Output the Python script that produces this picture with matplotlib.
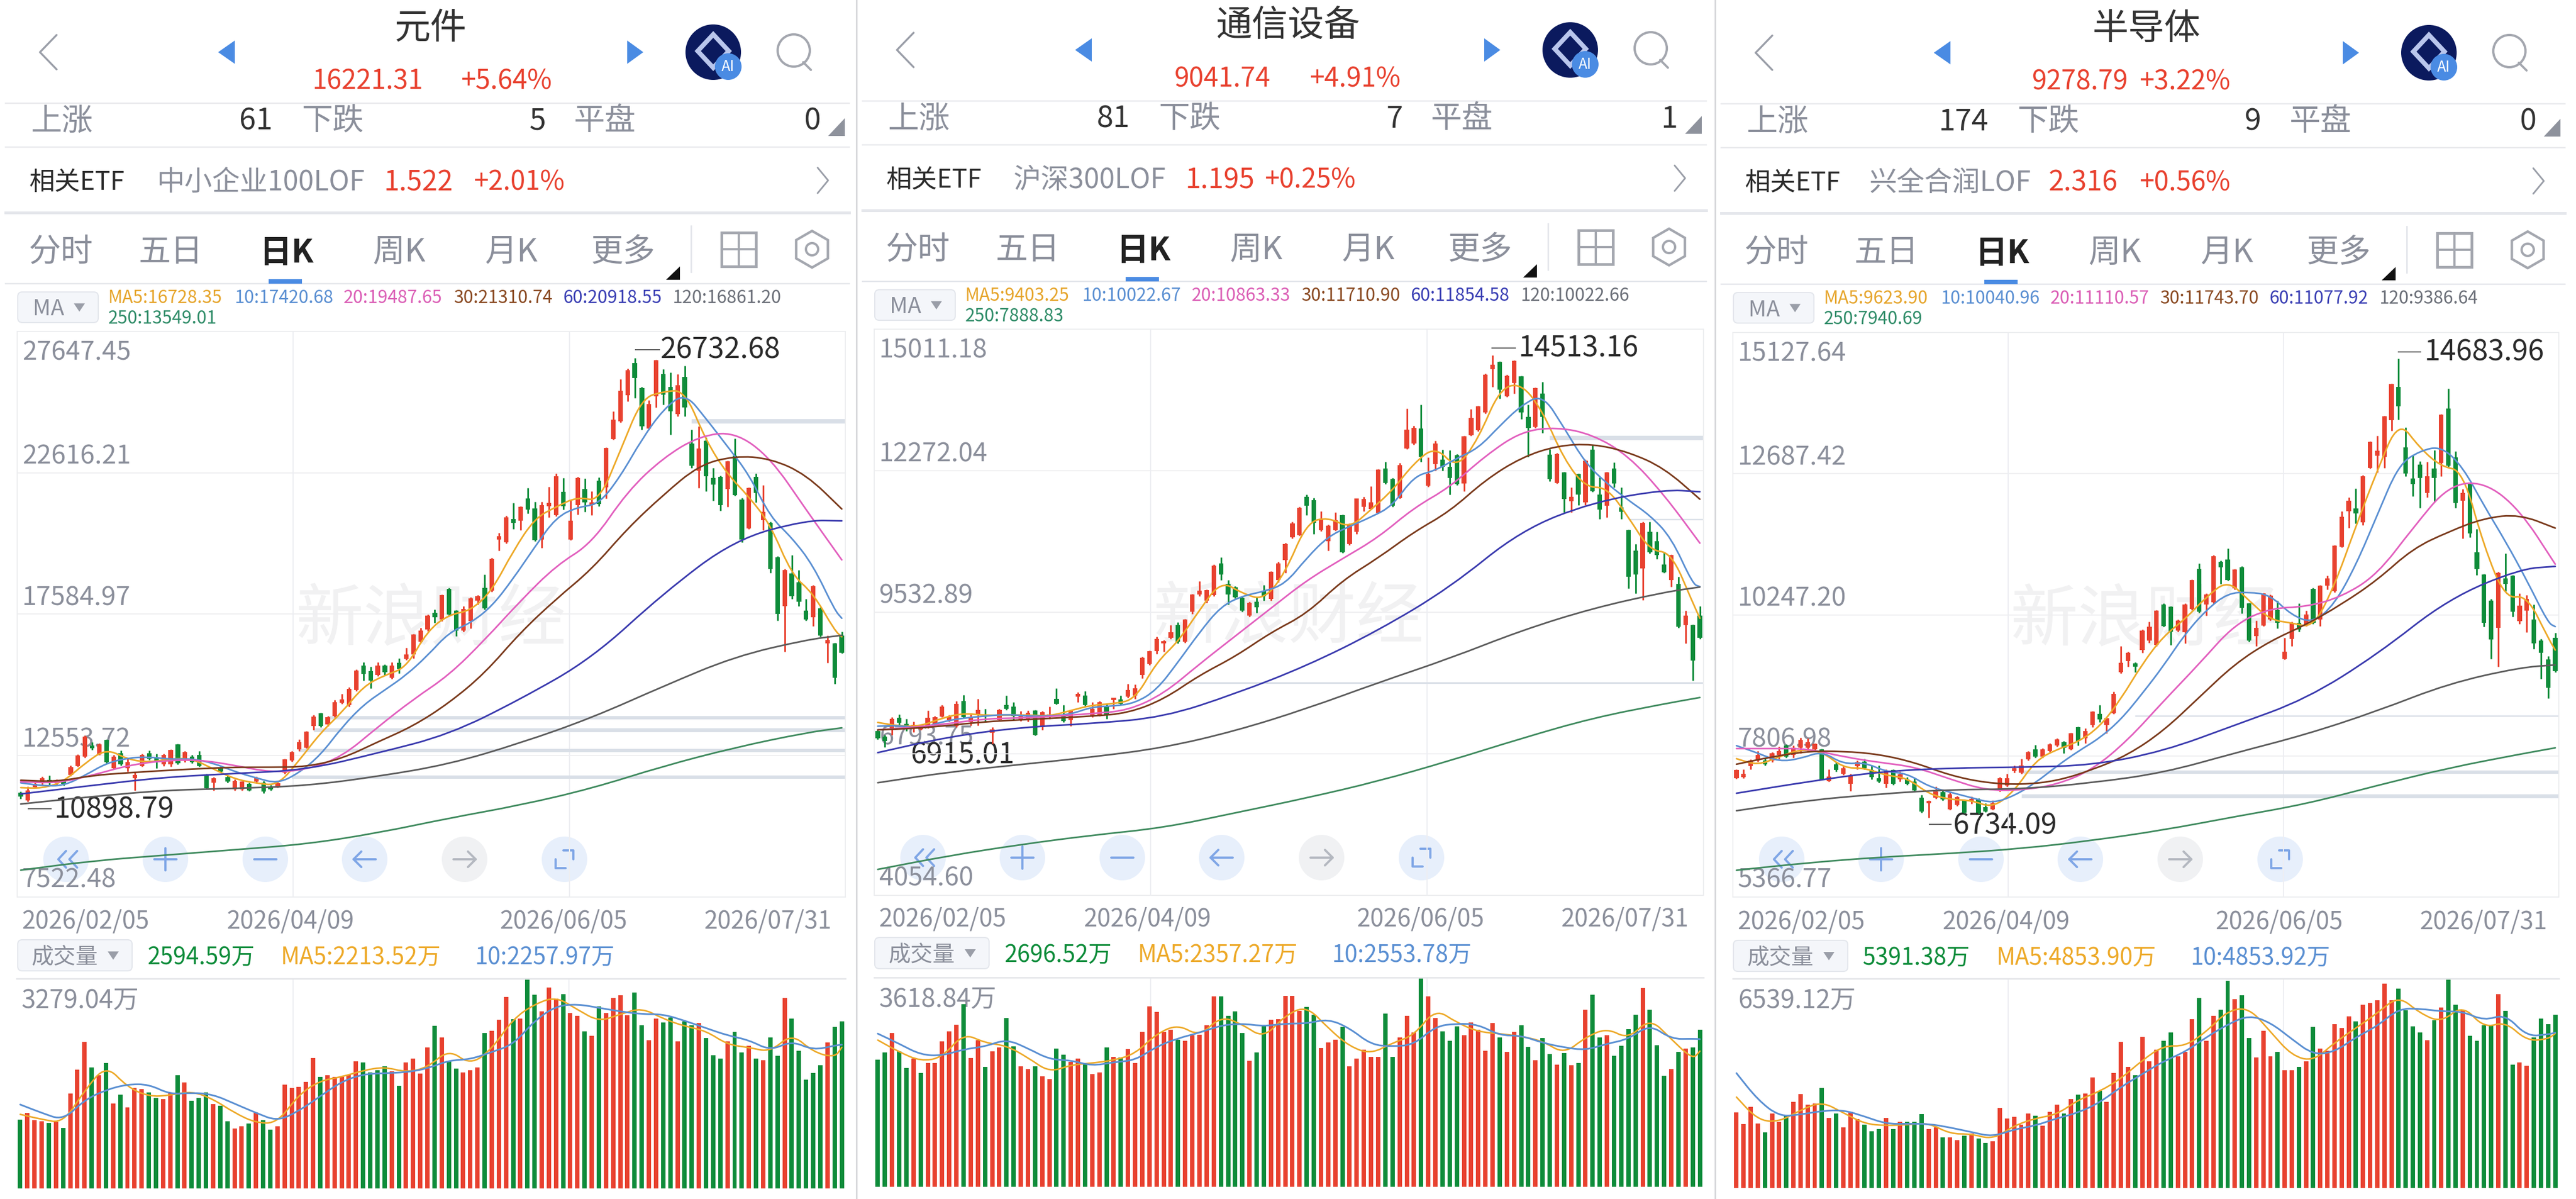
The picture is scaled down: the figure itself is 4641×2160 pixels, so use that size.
import matplotlib
matplotlib.use("Agg")
import matplotlib.pyplot as plt
from matplotlib.patches import Circle, FancyBboxPatch, Polygon, RegularPolygon, PathPatch
from matplotlib.path import Path

plt.rcParams['font.family'] = ['Noto Sans CJK SC', 'DejaVu Sans']

RED = '#E8412F'; GREEN = '#0E8C3A'; GRAY = '#8B8F9B'; DARK = '#2B2B2B'; BLUE = '#4A8BE3'
MA_COLORS = ['#EDA928', '#5A8FD2', '#E25FBE', '#7A3A1C', '#3A3AAE', '#5C5C5C', '#3F8A5E']
MA_TEXT = ['#E6A52C', '#5A8FD2', '#DB5FB6', '#8A4A22', '#3A3FB4', '#6B6F78', '#2F8C68']

dates = ['2026/02/05', '2026/04/09', '2026/06/05', '2026/07/31']

# ---------- Panel 1: 元件 ----------
p1_title = '元件'; p1_price = '16221.31'; p1_pct = '+5.64%'
p1_counts = ['61', '5', '0']
p1_etf = ['中小企业100LOF', '1.522', '+2.01%']
p1_ma_labels = ['MA5:16728.35', '10:17420.68', '20:19487.65', '30:21310.74', '60:20918.55', '120:16861.20', '250:13549.01']
p1_vol_labels = ['2594.59万', 'MA5:2213.52万', '10:2257.97万']
p1_ticks = [27647.45, 22616.21, 17584.97, 12553.72, 7522.48]
p1_vol_max = 3279.04
p1_hi_label = '26732.68'; p1_lo_label = '10898.79'
p1_bands = [24449, 13899, 13463, 12736, 11784]
p1_band_start = [94, 43, 41, 39, 38]
p1_candle_colors = ("grrrgrgrrr" "grgrgrrrgg" "rrgrgggrgg" "rrgrggrrrr" "rrgrrrrrgg" "rgrgrrrrgr"
                    "ggrrrgrrrg" "rggrrrgrrg" "rgrrrrggrr" "ggrggrgggr" "ggrgrggrgg" "grgrgg")
p1_body_top = [11229,11321,11546,11744,11691,11678,11652,12141,12551,13238,12921,12947,13106,12511,12643,12313,11876,12577,12643,12471,
 12577,12749,12947,12683,12511,12577,11889,11757,12101,11784,11652,11625,11546,11757,11585,11453,11572,12418,12669,13040,
 13410,13939,14058,13925,14454,14560,14930,15578,15750,15552,15750,15750,15750,15856,16146,16860,17006,17534,17627,18262,
 18486,17706,17772,18156,18235,18526,19557,20350,21038,20972,21408,21699,21342,21461,21540,22492,21937,20906,22439,22029,
 21567,22333,23497,24501,25533,26260,26524,25638,25070,26617,26128,25665,25731,26035,23655,23483,23748,22439,22466,23021,
 23219,21672,22069,22466,21236,20840,19610,19161,19028,18724,17706,18592,17799,16675,16543,16834]
p1_body_bot = [11096,10964,11440,11572,11586,11572,11546,11876,12180,12511,12815,12603,12313,12114,12246,12114,11757,12180,12445,12313,
 12246,12246,12286,12379,12313,12180,11387,11585,11982,11625,11361,11347,11321,11625,11281,11347,11453,11955,12379,12775,
 12841,13608,13608,13661,13965,14428,14362,14891,15459,15221,15419,15512,15327,15644,15987,16146,16609,17045,17468,17402,
 17574,17006,17006,17336,18063,17799,18420,20245,20139,20840,20906,21302,20218,20245,21434,21104,21434,20245,21461,21567,
 21461,21500,22095,23814,24449,25374,25995,24277,24184,25334,25400,24806,24713,24938,22862,22690,22492,22201,21461,22029,
 21831,20245,20641,21897,20932,19187,17601,17865,18235,18024,17402,17468,16834,16543,15327,16213]
p1_high = [11281,11453,11599,11810,11850,11718,11718,12207,12603,13278,13040,13000,13132,12577,12736,12445,11982,12617,12736,12617,
 12617,12775,12974,12709,12577,12709,11916,11784,12207,11850,11718,11652,11599,11810,11652,11519,11625,12445,12709,13132,
 13436,13992,14084,13952,14534,14758,14983,15618,15882,15723,15882,15803,15882,16014,16384,16887,17098,17574,17759,18288,
 18526,17733,17865,18182,18262,18989,19584,20483,21091,21540,21434,22069,21593,21593,22122,22598,22426,21672,22466,22413,
 21963,22452,23523,24806,25956,26326,26696,25665,25202,26643,26299,26194,26128,26432,24144,24277,23880,22783,22518,23047,
 23840,21725,22095,22598,22175,20879,19650,19187,19689,19161,18129,18618,17839,16834,16569,16966]
p1_low = [11017,10925,11387,11519,11519,11519,11493,11823,12154,12471,12762,12577,12286,12075,12207,11982,11321,12154,12405,12114,
 12180,12154,12246,12313,12273,12154,11361,11321,11942,11585,11321,11308,11295,11572,11216,11321,11413,11916,12339,12709,
 12815,13476,13568,13608,13925,14401,14296,14851,15221,14957,15380,15419,15287,15485,15948,16014,16569,16992,17270,17336,
 17534,16807,16966,17072,17931,17759,18394,19848,20112,20615,20575,21170,20179,19954,21038,21064,21302,20218,21130,21236,
 21104,21434,21699,23788,24409,25162,25268,24158,24145,24938,25043,23973,24634,24634,22783,22069,21963,21633,21263,21408,
 21804,20139,20615,21567,20575,19055,17363,16252,18129,17865,17363,17164,16781,15856,15115,16186]
p1_ma5 = [11414,11387,11625,12286,12802,12418,12313,12445,12445,12075,11718,11572,11493,12379,13370,14097,15023,15419,15684,17006,
 17574,17706,18420,19848,20998,21408,21765,21593,23417,25268,25506,25559,23748,22558,21765,20773,18989,18328,17006,16781]
p1_ma10 = [11586,11480,11480,11850,12286,12471,12511,12418,12445,12286,11982,11757,11559,11942,12577,13569,14362,14891,15419,16120,
 16940,17270,17865,18857,19980,21038,21395,21500,22492,23814,24872,25467,24541,23550,22558,21038,20311,19319,17733,17442]
p1_ma20 = [11625,11572,11850,12207,12379,12405,12207,11956,12049,12511,13569,14560,15419,16675,18063,19319,20112,21963,23153,23920,24078,23153,21302,19518]
p1_ma30 = [11678,11625,11850,11942,12022,12088,12141,12141,12154,12445,13040,13608,14428,15485,16940,18129,19187,20641,21831,22889,23219,23127,22558,21329]
p1_ma60 = [11189,11493,11784,11916,12048,12643,13304,14560,16014,18328,20245,20932,20906]
p1_ma120 = [10832,11096,11321,11387,11480,11810,12247,13000,13899,15023,16080,16675,16834]
p1_ma250 = [8479,8809,9008,9206,9404,9801,10330,10792,11387,12180,12841,13370,13542]
p1_vol_colors = ("grrrgrgrrr" "grgrgrrrgg" "rrgrgggrgg" "rrgrggrrrr" "rrgrrrrrgg" "ggrgrrrrgr"
                 "ggrrrgrrrg" "rggrrrgrrg" "rgrrrrggrr" "ggrggrgggr" "ggrgrggrgg" "gggrgg")
p1_vol = [1075,1181,1066,1052,1023,1037,942,1484,1858,2290,1893,1766,1959,1331,1469,1268,1570,1556,1498,1412,
 1397,1498,1766,1657,1368,1412,1498,1320,1291,1052,936,974,1014,1187,1066,922,974,1619,1570,1585,
 1665,2037,1743,1772,1743,1743,1780,1988,1965,1815,1844,1907,1829,1605,1968,2031,1792,2204,2541,2362,
 1988,1873,1815,1850,1887,2426,2463,2636,2996,2645,2656,3279,3031,2771,3140,2967,3039,2743,2702,2457,
 2385,2844,2737,2976,3019,2708,3060,2550,2319,2651,2593,2671,2299,2613,2550,2587,2348,2083,2031,2299,
 2443,2123,2233,2031,2002,2362,2074,2976,2651,2152,1700,1806,1925,2282,2521,2607]
p1_vma5 = [1158,1080,1023,1527,1930,1585,1435,1455,1521,1397,1181,1023,1023,1469,1685,1743,1844,1901,1815,1887,2175,1930,2175,2651,2881,2996,2795,2607,2723,2823,2651,2535,2463,2247,2204,2132,2420,2132,2045,2204]
p1_vma10 = [1311,1181,1066,1383,1541,1628,1628,1469,1498,1469,1325,1181,1052,1210,1441,1671,1786,1801,1815,1873,2002,2017,2132,2247,2622,2852,2881,2823,2766,2723,2723,2622,2506,2391,2319,2155,2305,2161,2233,2247]

# ---------- Panel 2: 通信设备 ----------
p2_title = '通信设备'; p2_price = '9041.74'; p2_pct = '+4.91%'
p2_counts = ['81', '7', '1']
p2_etf = ['沪深300LOF', '1.195', '+0.25%']
p2_ma_labels = ['MA5:9403.25', '10:10022.67', '20:10863.33', '30:11710.90', '60:11854.58', '120:10022.66', '250:7888.83']
p2_vol_labels = ['2696.52万', 'MA5:2357.27万', '10:2553.78万']
p2_ticks = [15011.18, 12272.04, 9532.89, 6793.75, 4054.60]
p2_vol_max = 3618.84
p2_hi_label = '14513.16'; p2_lo_label = '6915.01'
p2_bands = [12901, 11325, 8171]
p2_band_start = [94, 105, 38]
p2_candle_colors = ("ggrggrrrrr" "rrgrrgrrgg" "rrgrrggrrg" "rrgrgrrrrr" "rrgrrrrrgg" "ggrggrrrrr"
                    "ggrrrgrrrr" "rggrrrgrrg" "ggrrrrrgrr" "ggrggrgrgr" "ggrggggrgg" "grgrgg")
p2_body_top = [7235,7127,7473,7487,7379,7357,7329,7487,7501,7703,7516,7761,7811,7501,7645,7559,7271,7645,7739,7703,
 7523,7588,7631,7595,7559,7861,7523,7631,7955,7919,7667,7789,7703,7876,7847,8027,8063,8653,8783,9021,
 8977,9143,9287,9395,9877,9949,9964,10439,10475,10079,10021,9813,9719,9733,9949,10317,10475,10849,11253,11555,
 11771,11699,11339,11209,11317,11411,11245,11735,11721,11663,12289,12311,12109,12383,13067,13103,13089,12203,12801,12491,
 12347,12577,12937,13297,13513,14125,14327,14377,14111,14399,14097,13319,13873,13765,12585,12599,12239,11771,12203,12469,
 12685,11807,12239,12311,11562,11123,10727,11267,11087,10907,10453,10641,10079,9467,9287,9467]
p2_body_bot = [7091,7041,7285,7393,7307,7285,7271,7307,7357,7516,7444,7329,7501,7401,7559,7523,7199,7451,7667,7523,
 7451,7473,7163,7307,7501,7761,7429,7451,7897,7739,7523,7545,7559,7833,7761,7905,7919,8315,8531,8783,
 8927,9035,8963,8963,9539,9877,9755,9863,10259,9877,9827,9561,9467,9633,9849,9791,10151,10547,10979,11029,
 11591,11267,11123,10907,11123,10691,10849,11087,11577,11533,11461,12037,11591,11749,12707,12801,12541,11980,12397,12347,
 12131,12009,12023,12959,13053,13405,14241,13837,13715,13967,13405,13103,13117,13319,12109,12037,11721,11677,11807,11663,
 11879,11519,11591,12023,11476,10223,10259,10381,10691,10641,10309,10151,9251,9287,8603,9035]
p2_high = [7271,7163,7501,7559,7473,7415,7343,7631,7523,7739,7545,7811,7933,7559,7861,7667,7307,7667,7919,7789,
 7617,7631,7645,7617,7703,8063,7739,7645,7991,8005,7789,7818,7761,7883,7919,8149,8135,8675,8797,9057,
 8999,9287,9337,9409,9892,10137,9978,10453,10597,10151,10043,9834,9733,9827,10057,10331,10511,10871,11289,11569,
 11807,11749,11483,11231,11469,11425,11253,11735,11771,11973,12304,12441,12131,12426,13477,13139,13549,12527,12851,12685,
 12671,12599,12952,13463,13528,14147,14507,14385,14125,14413,14111,13549,13888,13996,12693,12613,12253,11951,12217,12484,
 12779,12145,12253,12433,11951,11137,10857,11281,11289,11087,10691,10655,10223,9561,9301,9647]
p2_low = [7069,6925,7163,7357,7235,7213,7257,7285,7343,7501,7415,7307,7487,7343,7343,7415,6983,7429,7645,7451,
 7429,7415,7149,7257,7473,7746,7401,7329,7789,7717,7501,7523,7473,7667,7739,7883,7861,8257,8509,8725,
 8769,9013,8927,8941,9503,9849,9719,9849,10151,9683,9805,9539,9445,9517,9755,9755,10115,10295,10965,11015,
 11411,11051,11101,10727,11109,10677,10835,11051,11483,11519,11447,12009,11577,11735,12693,12779,12441,11965,12275,12275,
 11807,11994,11879,12945,13038,13377,13895,13665,13701,13765,13276,12541,13103,13002,12073,12023,11469,11469,11605,11605,
 11865,11339,11375,11951,11339,9993,9899,9769,10669,10569,10295,10029,9229,8927,8207,9013]
p2_ma5 = [7401,7329,7329,7487,7580,7537,7545,7545,7523,7631,7739,7761,7847,8567,8963,9575,10137,9899,9769,10295,
 11267,11375,11159,11519,11893,12419,12743,12311,12887,13859,13967,13427,12491,11951,11951,11375,10727,10691,9719,9417]
p2_ma10 = [7329,7343,7285,7415,7487,7523,7559,7523,7523,7559,7703,7717,7775,8027,8567,9143,9647,9849,9935,10079,
 10583,11001,11195,11375,11591,12167,12275,12513,12707,13139,13535,13751,13103,12419,12023,11699,11411,10979,10079,10029]
p2_ma20 = [7257,7307,7379,7473,7487,7523,7573,7631,7955,8531,9071,9611,10151,10569,10979,11555,11951,12563,13031,13117,12973,12563,11807,10871]
p2_ma30 = [7257,7285,7343,7415,7451,7487,7523,7581,7847,8315,8675,9143,9503,10151,10583,11087,11483,12095,12527,12757,12793,12635,12325,11721]
p2_ma60 = [6817,7127,7307,7379,7501,7955,8495,9179,10007,11123,11663,11908,11865]
p2_ma120 = [6234,6443,6587,6731,6911,7235,7667,8171,8639,9179,9611,9921,10021]
p2_ma250 = [4557,4823,5039,5219,5363,5651,5939,6263,6659,7091,7487,7761,7883]
p2_vol_colors = ("ggrggrgrrr" "rrgrrgrrgg" "rrgrrggrrg" "rrgrgrrrrr" "rrgrrrrrgg" "ggrggrrrrr"
                 "ggrrrgrrrr" "rggrrrgrrg" "ggrrrrrgrr" "ggrggrgrgr" "ggrggggrgg" "grgrgg")
p2_vol = [2196,2324,2655,2340,2053,2219,1964,2139,2139,2511,2686,2807,3158,2228,2537,2069,2346,2410,2919,2425,
 2082,2037,2082,1907,1862,2387,2282,2155,2219,2139,1948,1980,2410,2244,2234,2378,2145,2680,3119,3021,
 2674,2718,2543,2527,2616,2632,2792,3291,3291,2960,3030,2655,2177,2324,2776,2887,2903,3301,3301,3046,
 3110,2973,2400,2495,2546,2766,2082,2219,2368,2250,2250,2998,2250,2585,2957,2664,3619,3291,2919,2686,
 2521,2776,2616,2839,2712,2352,2833,2585,2336,2680,2792,2419,2187,2569,2298,2114,2314,2098,2139,3062,
 3326,2578,2616,2266,2441,2728,2973,3434,3062,2448,1923,2037,2330,2387,2410,2712]
p2_vma5 = [2537,2330,2171,2234,2655,2489,2441,2234,1980,2107,2139,2187,2298,2648,2807,2601,2951,2807,2569,2967,3126,2744,2425,2298,2489,2616,3078,2839,2680,2648,2601,2521,2298,2585,2744,2553,2919,2553,2203,2346]
p2_vma10 = [2648,2473,2282,2266,2378,2425,2553,2394,2203,2187,2091,2155,2187,2425,2569,2664,2792,2823,2776,2823,2823,2903,2744,2457,2425,2457,2776,2823,2807,2616,2616,2489,2410,2362,2473,2553,2807,2553,2560,2553]

# ---------- Panel 3: 半导体 ----------
p3_title = '半导体'; p3_price = '9278.79'; p3_pct = '+3.22%'
p3_counts = ['174', '9', '0']
p3_etf = ['兴全合润LOF', '2.316', '+0.56%']
p3_ma_labels = ['MA5:9623.90', '10:10040.96', '20:11110.57', '30:11743.70', '60:11077.92', '120:9386.64', '250:7940.69']
p3_vol_labels = ['5391.38万', 'MA5:4853.90万', '10:4853.92万']
p3_ticks = [15127.64, 12687.42, 10247.20, 7806.98, 5366.77]
p3_vol_max = 6539.12
p3_hi_label = '14683.96'; p3_lo_label = '6734.09'
p3_bands = [7528, 7116, 8499]
p3_band_start = [40, 40, 56]
p3_candle_colors = ("rrrrgrrgrr" "rrgrgrrrgg" "grgrgggrrg" "rrgrggrrrr" "rrgrrrgrgr" "rgrrrrgrrr"
                    "ggrrrgrrgg" "rggrrrgrrg" "rgrrrrrgrr" "rrrggggrgr" "ggrggggrgg" "rrgggg")
p3_body_top = [7566,7502,7727,7824,7727,7856,7888,7984,7952,8081,8049,8016,7920,7451,7663,7598,7470,7695,7708,7566,
 7425,7553,7566,7489,7406,7361,7084,7026,7193,7180,7142,7090,7033,7065,7052,6923,6988,7418,7425,7598,
 7644,7869,7920,7920,8004,8094,8049,8196,8299,8235,8569,8531,8454,8884,9418,9592,9412,9978,10042,10318,
 10428,10383,10151,10428,10846,11038,10601,11264,11167,11199,11026,11071,10441,10023,10614,10576,10331,9611,10106,10106,
 10254,10698,10749,10878,11444,11939,12215,12087,12646,13238,13083,13675,14234,14189,13141,12601,12839,12646,12775,13707,
 13816,12967,12350,12505,11328,10942,10492,10974,10878,10923,10408,10524,10170,9804,9476,9849]
p3_body_bot = [7425,7438,7631,7727,7663,7727,7824,7792,7824,7952,7952,7920,7406,7373,7566,7502,7322,7631,7598,7438,
 7361,7322,7322,7406,7322,7213,6846,6988,7084,7052,6885,6962,6827,7020,6827,6846,6885,7213,7296,7547,
 7515,7746,7792,7792,7888,7984,7952,7920,8068,8113,8338,8434,8338,8544,9251,9444,9354,9637,9804,9720,
 10055,9958,9978,9945,10344,10299,10428,10460,11071,10846,10704,10363,9804,9881,10061,10170,10106,9482,9830,9997,
 10074,10106,10170,10749,10653,11424,12035,12003,11842,12787,13000,12980,13611,13848,12691,12505,12614,12357,12614,12871,
 12826,12183,12215,11649,11038,10106,9817,10023,10781,10299,10138,10318,9752,9592,8981,9270]
p3_high = [7579,7579,7746,7888,7772,7875,7965,8003,7984,8119,8113,8029,7933,7579,7708,7644,7502,7727,7759,7644,
 7644,7579,7579,7534,7438,7425,7129,7039,7277,7213,7168,7116,7052,7103,7078,6988,7039,7438,7502,7644,
 7759,7888,7997,7939,8029,8113,8061,8209,8312,8287,8582,8691,8467,8917,9701,9611,9431,9997,10125,10331,
 10447,10396,10164,10441,10858,11135,10614,11276,11180,11392,11039,11084,10453,10151,10627,10601,10492,9849,10125,10447,
 10318,10711,10762,10923,11456,12035,12273,12434,12659,13250,13340,13688,14247,14678,13482,13012,12903,12890,13096,13720,
 14157,13077,12421,12517,11727,10955,10524,10987,11309,10936,10621,10588,10428,9830,9534,9933]
p3_low = [7412,7418,7579,7708,7644,7695,7759,7772,7772,7856,7875,7888,7393,7361,7534,7483,7200,7579,7579,7406,
 7341,7258,7309,7361,7309,7200,6821,6743,7065,7039,6872,6943,6814,6975,6808,6833,6872,7193,7277,7515,
 7502,7727,7772,7772,7869,7965,7856,7907,7984,8029,8299,8389,8196,8531,9238,9354,9251,9592,9765,9701,
 10042,9720,9958,9753,10331,10280,10235,10447,10781,10833,10685,10267,9785,9701,10048,10151,10010,9476,9701,9958,
 10055,10093,10055,10685,10640,11411,11746,11823,11797,12775,12710,12787,13430,13623,12646,12292,12099,12273,12196,12646,
 12807,12093,11566,11585,10929,10042,9482,9354,10653,10215,10087,9945,9656,9142,8801,9257]
p3_ma5 = [7759,7644,7792,7920,7888,7598,7598,7470,7425,7148,7052,7039,6910,7193,7727,7920,8049,8306,8788,9399,
 9881,10170,10556,10846,10492,10158,10106,10023,10749,11778,12742,13610,13128,12807,12742,11424,10524,10588,9849,9637]
p3_ma10 = [7984,7856,7708,7759,7888,7663,7695,7534,7502,7277,7180,7084,6988,7116,7341,7631,7888,8113,8434,8884,
 9367,9913,10331,10621,10640,10588,10235,10106,10428,11103,11971,12839,13083,13160,12807,12132,11521,10846,10106,10042]
p3_ma20 = [7933,7933,7933,7792,7695,7618,7406,7213,7213,7309,7566,8081,8756,9399,10087,10363,10383,10556,10942,11746,12485,12550,12067,11122]
p3_ma30 = [7663,7792,7888,7888,7836,7695,7470,7341,7309,7373,7566,7824,8241,8820,9399,9797,10074,10428,10846,11392,11682,11919,11984,11746]
p3_ma60 = [7161,7361,7534,7598,7611,7644,7888,8338,8788,9560,10524,11039,11084]
p3_ma120 = [6859,7039,7148,7226,7232,7341,7515,7856,8177,8582,9058,9335,9380]
p3_ma250 = [5830,5959,6055,6120,6203,6345,6525,6756,6975,7296,7598,7836,7946]
p3_vol_colors = p3_candle_colors
p3_vol = [2366,2003,2533,2015,1727,2320,2061,2262,2694,2924,2607,2636,3126,2187,2331,1888,2377,2147,1974,1773,
 1830,2187,1842,2061,2072,2061,2302,1842,1888,1571,1583,1485,1629,1704,1543,1399,1456,2492,2176,2222,
 1974,2320,2262,1945,2377,2607,2320,2780,2907,2941,3454,3028,2694,3586,4565,3787,3517,4720,3960,4317,
 4605,4852,4104,4248,5272,5929,4593,5370,5572,6464,5906,6021,4691,4075,4910,4104,4248,3684,3684,3776,
 3960,5025,4352,4277,5111,4996,5353,5198,5716,5773,5860,6389,5860,6234,5543,5054,4852,4611,5244,5629,
 6539,5716,5572,4754,4605,5083,5065,6061,5526,3857,3914,3816,4708,5284,5123,5416]
p3_vma5 = [2838,2118,2061,2435,2694,2348,2003,1945,1974,2032,1687,1687,1514,1945,2176,2291,2751,3010,3413,3989,4449,4421,4881,5543,5629,4881,4133,3960,4536,4996,5457,6004,5457,5169,5716,4996,5198,4593,4651,4824]
p3_vma10 = [3586,2751,2233,2291,2406,2435,2233,2003,2003,2003,1888,1744,1600,1830,1945,2176,2348,2665,3154,3557,3960,4248,4708,5111,5399,5169,4651,4162,4248,4708,5054,5601,5601,5514,5514,5226,5428,4737,4795,4852]

bar_index = list(range(116))
fast_idx = list(range(0, 115, 3)) + [115]
mid_idx = list(range(0, 115, 5)) + [115]
slow_idx = list(range(0, 111, 10)) + [115]

W, H = 4641, 2160
fig = plt.figure(figsize=(W / 100, H / 100), dpi=100, facecolor='white')
ui = fig.add_axes([0, 0, 1, 1], zorder=0)
ui.set_xlim(0, W); ui.set_ylim(H, 0); ui.axis('off')


def pt(px):
    return px * 0.72


def T(x, y, s, size, color=GRAY, ha='left', weight='normal', z=3, **k):
    ui.text(x, y + 0.1 * size, s, fontsize=pt(size), color=color, ha=ha, va='center', fontweight=weight, zorder=z, **k)


def L(xs, ys, color=GRAY, w=3, z=2):
    ui.plot(xs, ys, color=color, lw=w * 0.72, solid_capstyle='round', solid_joinstyle='round', zorder=z)


def curve(ax, xs, ys, color, lw, z):
    """Draw a series as one stroked path whose bends are rounded between the read points."""
    pts = list(zip(xs, ys))
    mid = lambda a, b: ((a[0] + b[0]) / 2, (a[1] + b[1]) / 2)
    verts = [pts[0], mid(pts[0], pts[1])]
    codes = [Path.MOVETO, Path.LINETO]
    for i in range(1, len(pts) - 1):
        verts += [pts[i], mid(pts[i], pts[i + 1])]
        codes += [Path.CURVE3, Path.CURVE3]
    verts.append(pts[-1]); codes.append(Path.LINETO)
    ax.add_patch(PathPatch(Path(verts, codes), fill=False, ec=color, lw=lw, zorder=z, capstyle='round', joinstyle='round'))


def add_axes_px(x0, x1, y0, y1, z=1):
    ax = fig.add_axes([x0 / W, 1 - y1 / H, (x1 - x0) / W, (y1 - y0) / H], zorder=z)
    ax.patch.set_visible(False)
    ax.set_xticks([]); ax.set_yticks([])
    for s in ax.spines.values():
        s.set_color('#EDEEF0'); s.set_linewidth(1.4)
    return ax


def colr(c):
    return RED if c == 'r' else GREEN


def header(dx, dy, title, price, pct, counts, etf, price_x, pct_x, etf_x):
    L([dx + 102, dx + 72, dx + 102], [dy + 63, dy + 94, dy + 125], '#9A9EA8', 3.5)
    ui.add_patch(Polygon([[dx + 423, dy + 73], [dx + 423, dy + 115], [dx + 393, dy + 94]], color=BLUE, lw=0))
    ui.add_patch(Polygon([[dx + 1130, dy + 73], [dx + 1130, dy + 115], [dx + 1159, dy + 94]], color=BLUE, lw=0))
    T(dx + 776, dy + 45, title, 65, '#333333', 'center')
    T(price_x, dy + 142, price, 48, RED)
    T(pct_x, dy + 142, pct, 48, RED)
    # AI icon
    ui.add_patch(Circle((dx + 1285, dy + 94), 50, color='#0B1A5E', lw=0, zorder=2))
    ui.add_patch(Polygon([[dx + 1285, dy + 62], [dx + 1313, dy + 92], [dx + 1285, dy + 122], [dx + 1257, dy + 92]],
                         fill=False, ec='#B9C6EC', lw=6, zorder=3))
    ui.add_patch(Circle((dx + 1312, dy + 120), 24, color=BLUE, lw=0, zorder=4))
    T(dx + 1312, dy + 118, 'AI', 26, 'white', 'center', z=5)
    # search
    ui.add_patch(Circle((dx + 1430, dy + 91), 29, fill=False, ec='#A4A7AF', lw=3))
    L([dx + 1447, dx + 1461], [dy + 112, dy + 126], '#A4A7AF', 4)
    # rows
    for y, w, c in [(186, 2.5, '#E9EAED'), (265, 2.5, '#E9EAED'), (383, 5, '#E4E6EB'), (511, 2.5, '#E4E6EB')]:
        ui.plot([dx + 10, dx + 1530], [dy + y, dy + y], color=c, lw=w * 0.72, zorder=1)
    for x, s in [(55, '上涨'), (544, '下跌'), (1033, '平盘')]:
        T(dx + x, dy + 213, s, 56)
    for x, s in zip([491, 983, 1478], counts):
        T(dx + x, dy + 213, s, 54, '#333333', 'right')
    ui.add_patch(Polygon([[dx + 1522, dy + 213], [dx + 1522, dy + 245], [dx + 1492, dy + 245]], color='#8E929C', lw=0))
    T(dx + 53, dy + 324, '相关ETF', 46, '#2B2B2B')
    T(dx + etf_x[0], dy + 324, etf[0], 50, GRAY)
    T(dx + etf_x[1], dy + 324, etf[1], 50, RED)
    T(dx + etf_x[2], dy + 324, etf[2], 48, RED)
    L([dx + 1473, dx + 1492, dx + 1473], [dy + 302, dy + 325, dy + 348], '#9A9EA8', 3)
    for x, s in [(109, '分时'), (308, '五日'), (719, '周K'), (921, '月K'), (1122, '更多')]:
        T(dx + x, dy + 449, s, 58, GRAY, 'center')
    T(dx + 516, dy + 449, '日K', 58, '#222222', 'center', 'bold')
    ui.add_patch(plt.Rectangle((dx + 484, dy + 503), 60, 8, color=BLUE, lw=0))
    ui.add_patch(Polygon([[dx + 1225, dy + 480], [dx + 1225, dy + 504], [dx + 1200, dy + 504]], color='#111111', lw=0))
    ui.plot([dx + 1245, dx + 1245], [dy + 407, dy + 490], color='#E4E6EB', lw=2)
    ui.add_patch(plt.Rectangle((dx + 1300, dy + 419), 62, 61, fill=False, ec='#A4A7AF', lw=3.5))
    L([dx + 1331, dx + 1331], [dy + 419, dy + 480], '#A4A7AF', 4)
    L([dx + 1300, dx + 1362], [dy + 449, dy + 449], '#A4A7AF', 4)
    ui.add_patch(RegularPolygon((dx + 1463, dy + 449), 6, radius=33, fill=False, ec='#A4A7AF', lw=3.2))
    ui.add_patch(Circle((dx + 1463, dy + 449), 11, fill=False, ec='#A4A7AF', lw=3))


def button(dx, y0, y1, x1, label, tx, size):
    ui.add_patch(FancyBboxPatch((dx + 36, y0 + 4), x1 - 40, y1 - y0 - 8, boxstyle='round,pad=4,rounding_size=8',
                                fc='#F4F6FA', ec='#E3E6EC', lw=1.5, zorder=2))
    T(dx + tx, (y0 + y1) / 2, label, size, GRAY, 'center')
    ym = (y0 + y1) / 2
    ui.add_patch(Polygon([[dx + x1 - 44, ym - 7], [dx + x1 - 24, ym - 7], [dx + x1 - 34, ym + 8]], color='#9A9EA8', lw=0, zorder=3))


def nav_buttons(dx, y):
    xs = [119, 298, 478, 657, 837, 1017]
    fills = ['#E7EFFB', '#E7EFFB', '#E7EFFB', '#E7EFFB', '#F0F1F3', '#E7EFFB']
    ic = '#7FA6E6'
    for x, f in zip(xs, fills):
        ui.add_patch(Circle((dx + x, y), 41, color=f, lw=0, zorder=1))
    a = dx + 119
    for off in (-14, 6):
        L([a + off + 14, a + off, a + off + 14], [y - 15, y, y + 15], ic, 4)
    a = dx + 298
    L([a - 20, a + 20], [y, y], ic, 4); L([a, a], [y - 20, y + 20], ic, 4)
    a = dx + 478
    L([a - 20, a + 20], [y, y], ic, 4)
    a = dx + 657
    L([a - 20, a + 20], [y, y], ic, 4); L([a - 6, a - 20, a - 6], [y - 14, y, y + 14], ic, 4)
    a = dx + 837
    L([a - 20, a + 20], [y, y], '#B4B8C0', 4); L([a + 6, a + 20, a + 6], [y - 14, y, y + 14], '#B4B8C0', 4)
    a = dx + 1017
    L([a - 16, a - 16, a + 2], [y, y + 16, y + 16], ic, 4); L([a - 2, a + 16, a + 16], [y - 16, y - 16, y], ic, 4)


def ma_row(dx, dy, labels):
    x = dx + 195
    for s, c in zip(labels[:6], MA_TEXT):
        T(x, dy + 534, s, 32, c)
        x += len(s) * 16.4 + 17 + (13 if s.startswith('MA') else 0)
    T(dx + 195, dy + 571, labels[6], 32, MA_TEXT[6])


def panel(dx, dy, box, vbox, title, price, pct, counts, etf, price_x, pct_x, etf_x, ma_labels, vol_labels, ticks, vol_max,
          hi, hi_xy, lo, lo_xy, bands, band_start, band_w, ccolors, btop, bbot, high, low, mas, vcolors, vol, vma5, vma10):
    header(dx, dy, title, price, pct, counts, etf, price_x, pct_x, etf_x)
    button(dx, dy + 526, dy + 581, 177, 'MA', 87, 40)
    ma_row(dx, dy, ma_labels)
    x0, x1, y0, y1 = box
    ax = add_axes_px(x0, x1, y0, y1)
    ax.set_xlim(-0.5, 115.5); ax.set_ylim(ticks[-1], ticks[0])
    for v in ticks[1:-1]:
        ax.axhline(v, color='#EFEFF1', lw=1.5, zorder=0)
    for f in (1 / 3, 2 / 3):
        ax.axvline(-0.5 + 116 * f, color='#EDEEF2', lw=1.5, zorder=0)
    for lv, st, bw in zip(bands, band_start, band_w):
        ax.hlines(lv, st, 115.5, color='#D9DFE7', lw=bw * 0.72, zorder=1)
    # tick labels, under the candles
    gaps = y1 - y0
    yl = [y0 + 34] + [y0 + gaps * k / 4 - 34 for k in (1, 2, 3)] + [y1 - 35]
    for v, yy in zip(ticks, yl):
        T(x0 + 9, yy, f'{v:.2f}', 47, GRAY)
    # watermark
    T((x0 + x1) / 2, y0 + gaps / 2, '新浪财经', 122, '#F1F1F2', 'center', z=0)
    # candles
    cols = [colr(c) for c in ccolors]
    ax.vlines(bar_index, low, high, colors=cols, lw=2.2, zorder=2)
    ax.bar(bar_index, [t - b for t, b in zip(btop, bbot)], bottom=bbot, width=0.64, color=cols, lw=0, zorder=3)
    for idx, vals, c in zip([fast_idx, fast_idx, mid_idx, mid_idx, slow_idx, slow_idx, slow_idx], mas, MA_COLORS):
        curve(ax, idx, vals, c, 2.1, 4)
    # extreme labels
    for s, (lx0, lx1, ly, tx, ty) in ((hi, hi_xy), (lo, lo_xy)):
        ui.plot([lx0, lx1], [ly, ly], color='#555555', lw=1.4, zorder=3)
        T(tx, ty, s, 52, '#2B2B2B')
    nav_buttons(dx, y1 - 68)
    # dates
    for x, s in zip([39, 408, 900, 1268], dates):
        T(dx + x, dy + 1655, s, 44, GRAY)
    # volume
    button(dx, dy + 1693, dy + 1749, 238, '成交量', 117, 40)
    for x, s, c in zip([265, 506, 855], vol_labels, [GREEN, '#EDA928', '#5A8FD2']):
        T(dx + x, dy + 1720, s, 42, c)
    vx0, vx1, vy0, vy1 = vbox
    vax = add_axes_px(vx0, vx1, vy0, vy1)
    vax.set_xlim(-0.5, 115.5); vax.set_ylim(0, vol_max)
    for s in ('left', 'right', 'bottom'):
        vax.spines[s].set_visible(False)
    vax.spines['top'].set_linewidth(2); vax.spines['top'].set_color('#E6E7EA')
    for f in (1 / 3, 2 / 3):
        vax.axvline(-0.5 + 116 * f, color='#EDEEF2', lw=1.5, zorder=0)
    vax.bar(bar_index, vol, width=0.62, color=[colr(c) for c in vcolors], lw=0, zorder=2)
    curve(vax, fast_idx, vma5, '#EDA928', 2.0, 3)
    curve(vax, fast_idx, vma10, '#5A8FD2', 2.2, 4)
    T(vx0 + 9, vy0 + 35, f'{vol_max:.2f}万', 46, GRAY, z=6)


panel(0, 0, (31, 1523, 597, 1616), (30, 1523, 1763, 2141), p1_title, p1_price, p1_pct, p1_counts, p1_etf, 563, 830, (282, 692, 853),
      p1_ma_labels, p1_vol_labels, p1_ticks, p1_vol_max,
      p1_hi_label, (1145, 1188, 630, 1190, 626), p1_lo_label, (51, 92, 1457, 97, 1454),
      p1_bands, p1_band_start, [8, 6, 7, 6, 6], p1_candle_colors, p1_body_top, p1_body_bot, p1_high, p1_low,
      [p1_ma5, p1_ma10, p1_ma20, p1_ma30, p1_ma60, p1_ma120, p1_ma250], p1_vol_colors, p1_vol, p1_vma5, p1_vma10)
panel(1544, -4, (1575, 3069, 593, 1613), (1575, 3069, 1761, 2138), p2_title, p2_price, p2_pct, p2_counts, p2_etf, 2116, 2359, (281, 592, 734),
      p2_ma_labels, p2_vol_labels, p2_ticks, p2_vol_max,
      p2_hi_label, (2688, 2730, 627, 2735, 623), p2_lo_label, (1595, 1637, 1358, 1640, 1356),
      p2_bands, p2_band_start, [8, 2.5, 3], p2_candle_colors, p2_body_top, p2_body_bot, p2_high, p2_low,
      [p2_ma5, p2_ma10, p2_ma20, p2_ma30, p2_ma60, p2_ma120, p2_ma250], p2_vol_colors, p2_vol, p2_vma5, p2_vma10)
panel(3091, 1, (3122, 4610, 599, 1616), (3122, 4610, 1763, 2140), p3_title, p3_price, p3_pct, p3_counts, p3_etf, 3661, 3854, (277, 600, 763),
      p3_ma_labels, p3_vol_labels, p3_ticks, p3_vol_max,
      p3_hi_label, (4321, 4361, 634, 4367, 630), p3_lo_label, (3476, 3515, 1485, 3518, 1483),
      p3_bands, p3_band_start, [6, 7, 2.5], p3_candle_colors, p3_body_top, p3_body_bot, p3_high, p3_low,
      [p3_ma5, p3_ma10, p3_ma20, p3_ma30, p3_ma60, p3_ma120, p3_ma250], p3_vol_colors, p3_vol, p3_vma5, p3_vma10)

for x in (1543, 3090):
    ui.plot([x, x], [0, H], color='#D5D6D9', lw=2, zorder=5)

fig.savefig('out.png', dpi=100, facecolor='white')
